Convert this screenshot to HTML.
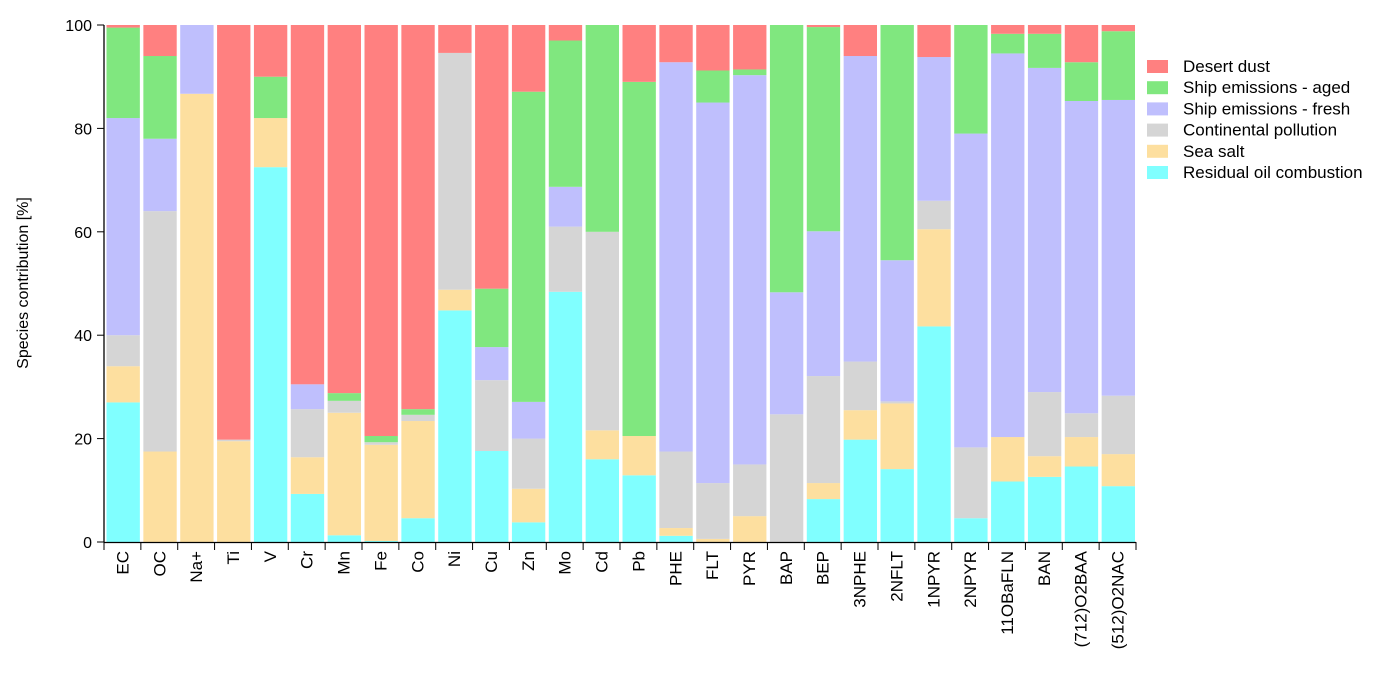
<!DOCTYPE html>
<html><head><meta charset="utf-8"><style>
body{margin:0;background:#fff;}
svg text{font-family:"Liberation Sans",Arial,sans-serif;fill:#000;}
</style></head><body>
<svg id="chart" width="1398" height="674" viewBox="0 0 1398 674"></svg>
<script>
const categories=["EC","OC","Na+","Ti","V","Cr","Mn","Fe","Co","Ni","Cu","Zn","Mo","Cd","Pb","PHE","FLT","PYR","BAP","BEP","3NPHE","2NFLT","1NPYR","2NPYR","11OBaFLN","BAN","(712)O2BAA","(512)O2NAC"];
const residualOil=[27,0,0,0,72.5,9.3,1.3,0.2,4.6,44.8,17.6,3.8,48.4,16,12.9,1.2,0,0,0,8.3,19.8,14.1,41.7,4.6,11.7,12.6,14.6,10.8];
const seaSalt=[7,17.5,86.7,19.5,9.5,7.1,23.7,18.6,18.8,4,0,6.5,0,5.6,7.6,1.5,0.6,5,0,3.1,5.7,12.7,18.8,0,8.6,4,5.7,6.2];
const continental=[6,46.5,0,0.3,0,9.3,2.3,0.5,1.2,45.8,13.7,9.7,12.6,38.4,0,14.8,10.8,10,24.7,20.7,9.4,0.4,5.5,13.7,0,12.4,4.6,11.3];
const shipFresh=[42,14,13.3,0,0,4.8,0,0,0,0,6.4,7.1,7.7,0,0,75.3,73.6,75.3,23.6,28,59.1,27.3,27.8,60.7,74.2,62.7,60.4,57.2];
const shipAged=[17.5,16,0,0,8,0,1.5,1.2,1.1,0,11.3,60,28.3,40,68.5,0,6.2,1.1,51.7,39.5,0,45.5,0,21,3.8,6.6,7.5,13.3];
const desertDust=[0.5,6,0,80.2,10,69.5,71.2,79.5,74.3,5.4,51,12.9,3,0,11,7.2,8.8,8.6,0,0.4,6,0,6.2,0,1.7,1.7,7.2,1.2];
const seriesNames=["Residual oil combustion","Sea salt","Continental pollution","Ship emissions - fresh","Ship emissions - aged","Desert dust"];
const yTicks=[0,20,40,60,80,100];

const NS="http://www.w3.org/2000/svg";
const svg=document.getElementById('chart');
const colors=["#80ffff","#fddf9f","#d5d5d5","#bfbffd","#80e77f","#ff8080"];
const seriesData=[residualOil,seaSalt,continental,shipFresh,shipAged,desertDust];
const X0=104,X1=1136,Y0=542,Y1=25;
const pitch=(X1-X0)/categories.length;
function yy(v){return Y0-v*(Y0-Y1)/100;}
function xb(i){return X0+i*pitch;}
function mk(tag,attrs){const e=document.createElementNS(NS,tag);for(const k in attrs)e.setAttribute(k,attrs[k]);svg.appendChild(e);return e;}

categories.forEach((c,i)=>{
  let cum=0;
  seriesData.forEach((s,j)=>{
    const v=s[i];
    if(v>0){
      const r=mk('rect',{x:xb(i)+2.5,width:pitch-3.5,y:yy(cum+v),height:yy(cum)-yy(cum+v),fill:colors[j]});
      
      
    }
    cum+=v;
  });
  const tk=mk('line',{x1:xb(i+1),x2:xb(i+1),y1:Y0,y2:Y0+8,stroke:'#000','stroke-width':1});
  
  
  const cx=xb(i)+pitch/2;
  const t=mk('text',{x:0,y:0,'font-size':17,'text-anchor':'end',transform:`translate(${cx+6},${Y0+9}) rotate(-90)`});
  t.textContent=c;
  
  
});
const tk0=mk('line',{x1:X0,x2:X0,y1:Y0,y2:Y0+8,stroke:'#000'});


const ax=mk('line',{x1:X0,x2:X1,y1:Y0+0.5,y2:Y0+0.5,stroke:'#000','stroke-width':1.3});


const ay=mk('line',{x1:X0,x2:X0,y1:Y1,y2:Y0+0.5,stroke:'#000','stroke-width':1.3});


yTicks.forEach(v=>{
  const l=mk('line',{x1:X0-7,x2:X0,y1:yy(v),y2:yy(v),stroke:'#000'});
  
  
  const t=mk('text',{x:X0-12,y:yy(v)+6,'font-size':16,'text-anchor':'end'});
  t.textContent=v;
  
  
});
const yl=mk('text',{x:0,y:0,'font-size':16,'text-anchor':'middle',transform:'translate(28,283) rotate(-90)'});
yl.textContent='Species contribution [%]';


for(let k=0;k<6;k++){
  const j=5-k;
  const gy=66+k*21.2;
  const g=mk('g',{});
  
  
  const r=document.createElementNS(NS,'rect');
  r.setAttribute('x',1147);r.setAttribute('y',gy-6);r.setAttribute('width',21);r.setAttribute('height',13);r.setAttribute('fill',colors[j]);
  
  
  g.appendChild(r);
  const t=document.createElementNS(NS,'text');
  t.setAttribute('x',1183);t.setAttribute('y',gy+6);t.setAttribute('font-size',17);
  t.textContent=seriesNames[j];
  
  
  g.appendChild(t);
}
</script>
</body></html>
